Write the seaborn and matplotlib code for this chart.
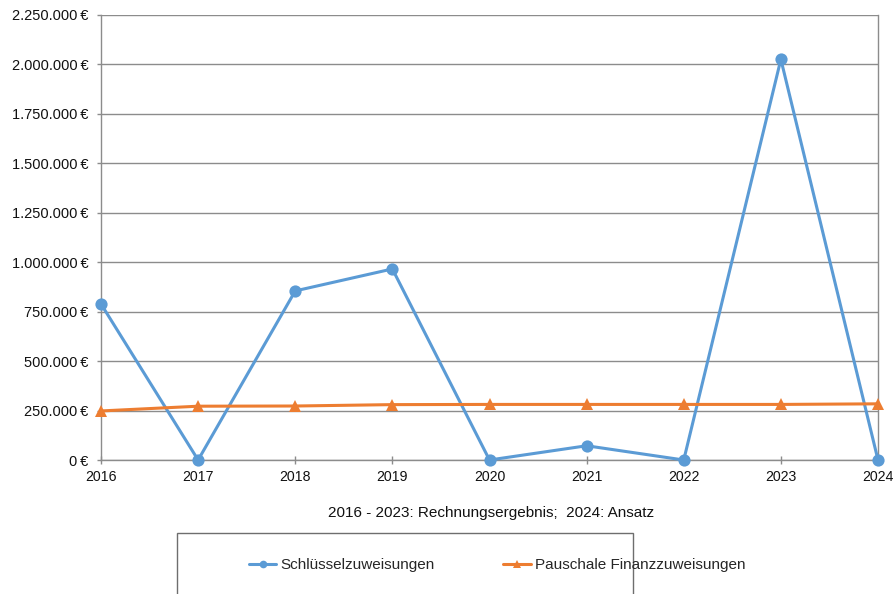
import matplotlib
matplotlib.use("Agg")
import matplotlib.pyplot as plt
from matplotlib.ticker import FuncFormatter, MultipleLocator
from matplotlib.patches import Rectangle
from matplotlib.lines import Line2D
import pandas as pd
import seaborn as sns

years = [2016, 2017, 2018, 2019, 2020, 2021, 2022, 2023, 2024]
schluessel = [789000, 0, 855000, 966000, 0, 72000, 0, 2026000, 0]
pauschale = [248000, 272000, 273000, 280000, 281000, 281000, 281000, 281000, 284000]
series_names = ["Schlüsselzuweisungen", "Pauschale Finanzzuweisungen"]
caption = "2016 - 2023: Rechnungsergebnis;  2024: Ansatz"

colors = {series_names[0]: "#5B9BD5", series_names[1]: "#ED7D31"}
markers = {series_names[0]: "o", series_names[1]: "^"}
marker_sizes = {series_names[0]: 8.8, series_names[1]: 9.0}

df = pd.concat([
    pd.DataFrame({"Jahr": years, "Betrag": schluessel, "Reihe": series_names[0]}),
    pd.DataFrame({"Jahr": years, "Betrag": pauschale, "Reihe": series_names[1]}),
])

sns.set_theme(style="white")
plt.rcParams["font.family"] = ["Liberation Sans", "DejaVu Sans"]

fig = plt.figure(figsize=(8.95, 5.94), dpi=100)
ax = fig.add_axes([101 / 895, 1 - 460 / 594, (878 - 101) / 895, (460 - 15) / 594])

for name in series_names:
    sub = df[df["Reihe"] == name]
    sns.lineplot(data=sub, x="Jahr", y="Betrag", ax=ax, color=colors[name],
                 marker=markers[name], markersize=marker_sizes[name],
                 markeredgewidth=0, linewidth=2.2, legend=False, zorder=3,
                 clip_on=False)

ax.set_xlim(2016, 2024)
ax.set_ylim(0, 2250000)
ax.set_xticks(years)
ax.set_xticklabels([str(y) for y in years])
ax.yaxis.set_major_locator(MultipleLocator(250000))


def euro(v, _pos):
    s = f"{int(round(v)):,}".replace(",", ".")
    return f"{s}\u2009€"


ax.yaxis.set_major_formatter(FuncFormatter(euro))
ax.set_xlabel("")
ax.set_ylabel("")
ax.grid(axis="y", color="#8c8c8c", linewidth=1.0)
ax.grid(axis="x", visible=False)
for side in ["left", "bottom", "right"]:
    ax.spines[side].set_visible(True)
    ax.spines[side].set_color("#8c8c8c")
    ax.spines[side].set_linewidth(1.0)
ax.spines["top"].set_visible(False)

ax.tick_params(axis="y", which="major", direction="out", length=3, width=1,
               color="#8c8c8c", labelsize=10.5, pad=6, left=True)
ax.tick_params(axis="x", which="major", direction="inout", length=6, width=1,
               color="#8c8c8c", labelsize=10.2, pad=4, bottom=True)
for lbl in ax.get_xticklabels() + ax.get_yticklabels():
    lbl.set_color("#111111")

fig.text(491 / 895, 1 - 513 / 594, caption, ha="center", va="center",
         fontsize=11, color="#111111")

# legend frame running off the bottom edge
fig.patches.append(Rectangle((177 / 895, -0.05), (633 - 177) / 895, (1 - 533 / 594) + 0.05,
                             transform=fig.transFigure, facecolor="white",
                             edgecolor="#6e6e6e", linewidth=1.0))

handles = [Line2D([0], [0], color=colors[n], marker=markers[n], markersize=5.5,
                  markeredgewidth=0, linewidth=2.2) for n in series_names]
fig.legend(handles, series_names, loc="center", ncol=2, frameon=False,
           bbox_to_anchor=(497 / 895, 1 - 565 / 594), fontsize=11,
           handlelength=1.8, handletextpad=0.25, columnspacing=4.5)

fig.savefig("out.png", dpi=100)
